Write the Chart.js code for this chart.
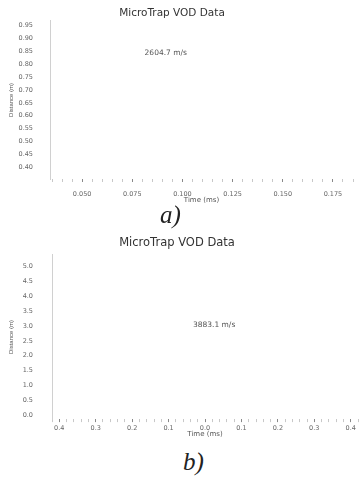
<!DOCTYPE html>
<html>
<head>
<meta charset="utf-8">
<script src="https://cdn.jsdelivr.net/npm/chart.js@4/dist/chart.umd.min.js"></script>
<style>
  body { margin: 0; background: #fff; width: 361px; height: 482px; overflow: hidden; position: relative; }
  .box { position: absolute; left: 0; width: 361px; }
  .cap { position: absolute; font-family: "Liberation Serif", serif; font-style: italic; font-size: 25px; color: #222; }
</style>
</head>
<body>
<div class="box" style="top:0;height:205px"><canvas id="chartA"></canvas></div>
<div class="cap" style="left:160px;top:201px">a)</div>
<div class="box" style="top:232px;height:210px"><canvas id="chartB"></canvas></div>
<div class="cap" style="left:183px;top:448px">b)</div>
<script>
// chart a) axes and velocity label
var yTicksA = [0.40, 0.45, 0.50, 0.55, 0.60, 0.65, 0.70, 0.75, 0.80, 0.85, 0.90, 0.95];
var xTicksA = [0.050, 0.075, 0.100, 0.125, 0.150, 0.175];
var xLabelsA = ['0.050', '0.075', '0.100', '0.125', '0.150', '0.175'];
var velPointA = [{x: 0.0917, y: 0.842}];
var velLabelA = '2604.7 m/s';

// chart b) axes and velocity label
var yTicksB = [0.0, 0.5, 1.0, 1.5, 2.0, 2.5, 3.0, 3.5, 4.0, 4.5, 5.0];
var xTicksB = [-0.4, -0.3, -0.2, -0.1, 0.0, 0.1, 0.2, 0.3, 0.4];
var xLabelsB = ['0.4', '0.3', '0.2', '0.1', '0.0', '0.1', '0.2', '0.3', '0.4'];
var velPointB = [{x: 0.025, y: 3.02}];
var velLabelB = '3883.1 m/s';

var chartTitle = 'MicroTrap VOD Data';

// draws the title and the velocity text next to the (invisible) point
var extraText = {
    id: 'extraText',
    afterDraw: function(chart) {
        var ctx = chart.ctx;
        var o = chart.options.plugins.extraText;
        var meta = chart.getDatasetMeta(0);
        ctx.save();
        ctx.textAlign = 'center';
        ctx.textBaseline = 'middle';
        ctx.fillStyle = '#333';
        ctx.font = o.titleSize + 'px "DejaVu Sans", sans-serif';
        ctx.fillText(chartTitle, o.titleX, o.titleY);
        ctx.font = '7.5px "DejaVu Sans", sans-serif';
        ctx.fillStyle = '#555';
        meta.data.forEach(function(pt) {
            ctx.fillText(chart.data.datasets[0].label, pt.x, pt.y);
        });
        ctx.restore();
    }
};

function minorList(min, max, step) {
    var out = [];
    for (var v = Math.ceil(min / step - 1e-9) * step; v <= max + 1e-9; v += step) out.push(Math.round(v * 10000) / 10000);
    return out;
}

function makeChart(id, o) {
    var ctx = document.getElementById(id).getContext('2d');
    var isMajor = function(v) {
        return o.xTicks.some(function(t) { return Math.abs(t - v) < 1e-6; });
    };
    var tickFont = { family: '"DejaVu Sans", sans-serif', size: 6.5 };
    return new Chart(ctx, {
        type: 'scatter',
        data: {
            datasets: [{
                label: o.velLabel,
                data: o.velPoint,
                pointRadius: 0,
                showLine: false
            }]
        },
        options: {
            responsive: true,
            maintainAspectRatio: false,
            animation: false,
            layout: { padding: { left: 0, right: o.padRight, top: o.areaTop, bottom: 0 } },
            plugins: {
                legend: { display: false },
                tooltip: { enabled: false },
                title: { display: false },
                extraText: { titleX: o.titleX, titleY: o.titleY, titleSize: o.titleSize }
            },
            scales: {
                x: {
                    type: 'linear',
                    min: o.xMin,
                    max: o.xMax,
                    afterBuildTicks: function(s) {
                        s.ticks = minorList(o.xMin, o.xMax, o.xMinor).map(function(v) { return {value: v}; });
                    },
                    afterFit: function(s) { s.height = o.xHeight; },
                    border: { display: false },
                    grid: {
                        drawOnChartArea: false,
                        drawTicks: true,
                        tickLength: 3,
                        tickColor: function(c) { return isMajor(c.tick.value) ? '#888' : '#c8c8c8'; }
                    },
                    ticks: {
                        autoSkip: false,
                        maxRotation: 0,
                        padding: o.xPad,
                        color: '#666',
                        font: tickFont,
                        callback: function(v) {
                            for (var i = 0; i < o.xTicks.length; i++) {
                                if (Math.abs(o.xTicks[i] - v) < 1e-6) return o.xLabels[i];
                            }
                            return '';
                        }
                    },
                    title: {
                        display: true,
                        text: 'Time (ms)',
                        color: '#555',
                        font: { family: '"DejaVu Sans", sans-serif', size: 7 },
                        padding: { top: 0, bottom: o.xTitleBottom }
                    }
                },
                y: {
                    min: o.yMin,
                    max: o.yMax,
                    afterBuildTicks: function(s) {
                        s.ticks = o.yTicks.map(function(v) { return {value: v}; });
                    },
                    afterFit: function(s) { s.width = o.yWidth; },
                    border: { display: true, color: '#d0d0d0', width: 1 },
                    grid: { drawOnChartArea: false, drawTicks: false },
                    ticks: {
                        padding: o.yPad,
                        color: '#666',
                        font: tickFont,
                        callback: function(v) { return v.toFixed(o.yDigits); }
                    },
                    title: {
                        display: true,
                        text: 'Distance (m)',
                        color: '#555',
                        font: { family: '"Liberation Sans", sans-serif', size: 6 },
                        padding: { top: 8, bottom: 0 }
                    }
                }
            }
        },
        plugins: [extraText]
    });
}

makeChart('chartA', {
    xTicks: xTicksA, xLabels: xLabelsA, yTicks: yTicksA,
    velPoint: velPointA, velLabel: velLabelA,
    xMin: 0.034, xMax: 0.185, xMinor: 0.005,
    yMin: 0.3535, yMax: 0.969, yDigits: 2,
    titleX: 172, titleY: 13, titleSize: 10.5, areaTop: 20,
    xHeight: 26, xPad: 8, xTitleBottom: 1,
    yWidth: 50, yPad: 17, padRight: 2
});

makeChart('chartB', {
    xTicks: xTicksB, xLabels: xLabelsB, yTicks: yTicksB,
    velPoint: velPointB, velLabel: velLabelB,
    xMin: -0.42, xMax: 0.42, xMinor: 0.02,
    yMin: -0.13, yMax: 5.39, yDigits: 1,
    titleX: 177, titleY: 11, titleSize: 11.5, areaTop: 18,
    xHeight: 22, xPad: 2, xTitleBottom: 3,
    yWidth: 52, yPad: 19, padRight: 3
});
</script>
</body>
</html>
